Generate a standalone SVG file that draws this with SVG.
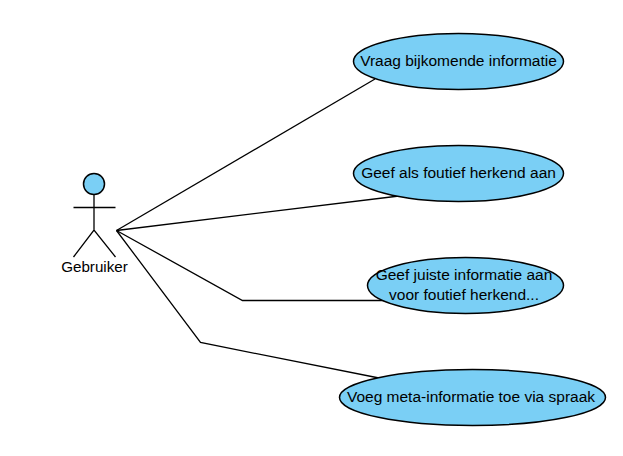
<svg xmlns="http://www.w3.org/2000/svg" width="623" height="456" viewBox="0 0 623 456">
<style>
.uc{fill:#7acff5;stroke:#000;stroke-width:1.5}
.ln{fill:none;stroke:#000;stroke-width:1.3}
text{font-family:"Liberation Sans",Arial,sans-serif;font-size:15.5px;fill:#000;text-anchor:middle}
</style>
<rect width="623" height="456" fill="#fff"/>
<g id="connectors">
<path class="ln" d="M116.500 230.500L375 79"/>
<path class="ln" d="M116.500 230.500L399 196"/>
<path class="ln" d="M116.500 230.500L242.500 300.500L384 300.500"/>
<path class="ln" d="M116.500 230.500L200.500 342.500L379 378"/>
</g>
<g id="actor">
<circle cx="94" cy="184" r="10.500" class="uc"/>
<path class="ln" d="M94 194.500V230M73.500 207.500H115.500M73.500 257L94 230L115.500 257"/>
<text x="94.500" y="272" style="font-size:15.200px">Gebruiker</text>
</g>
<g id="uc1">
<ellipse class="uc" cx="458.500" cy="61.500" rx="105" ry="28"/>
<text x="458.500" y="66">Vraag bijkomende informatie</text>
</g>
<g id="uc2">
<ellipse class="uc" cx="458.500" cy="173.500" rx="105" ry="28"/>
<text x="458.500" y="178">Geef als foutief herkend aan</text>
</g>
<g id="uc3">
<ellipse class="uc" cx="465.500" cy="285.500" rx="98" ry="28"/>
<text x="464" y="280">Geef juiste informatie aan</text>
<text x="464" y="300">voor foutief herkend...</text>
</g>
<g id="uc4">
<ellipse class="uc" cx="472.500" cy="397.500" rx="133" ry="28"/>
<text x="471" y="402">Voeg meta-informatie toe via spraak</text>
</g>
</svg>
